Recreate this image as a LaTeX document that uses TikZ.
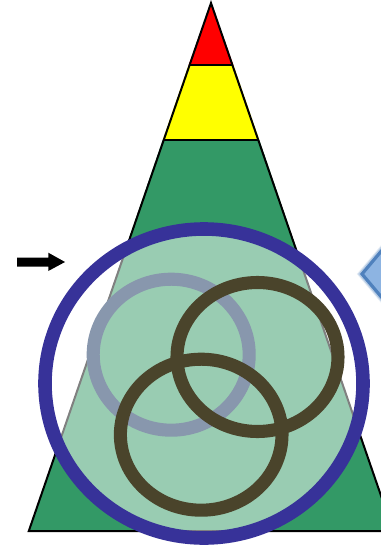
\documentclass[tikz,border=0pt]{standalone}
\usetikzlibrary{calc}
\definecolor{tgreen}{RGB}{51,153,102}
\definecolor{tyellow}{RGB}{255,255,0}
\definecolor{tred}{RGB}{255,0,0}
\definecolor{bigblue}{RGB}{55,50,153}
\definecolor{grayblue}{RGB}{136,151,173}
\definecolor{darkring}{RGB}{74,68,43}
\definecolor{dfill}{RGB}{141,180,226}
\definecolor{dborder}{RGB}{79,129,189}
\tikzset{
  band/.style={line width=1.5pt, line join=miter},
  ring/.style={line width=9.8pt},
}
\begin{document}
\begin{tikzpicture}[x=0.75pt,y=-0.75pt]
\useasboundingbox (0,0) rectangle (381,546);
\clip (0,0) rectangle (381,546);
% triangle coordinates (apex 211,3 ; slope 0.345)
\coordinate (apex) at (211,3);
\coordinate (rl) at (188.6,65);
\coordinate (rr) at (233.4,65);
\coordinate (yl) at (162.7,140);
\coordinate (yr) at (259.3,140);
\coordinate (bl) at (28.8,531);
\coordinate (br) at (393.2,531);
\fill[tgreen] (yl) -- (yr) -- (br) -- (bl) -- cycle;
\fill[tyellow] (rl) -- (rr) -- (yr) -- (yl) -- cycle;
\fill[tred] (apex) -- (rr) -- (rl) -- cycle;
\draw[band] (apex) -- (br) -- (bl) -- cycle;
\draw[band] (rl) -- (rr) (yl) -- (yr);
% big circle: white translucent fill and blue border
\fill[white, opacity=0.5] (204,383.5) ellipse [x radius=159, y radius=154.5];
\draw[bigblue, line width=10.2pt] (204,383.5) ellipse [x radius=159, y radius=154.5];
% inner rings
\draw[grayblue, ring] (171.2,354.7) ellipse [x radius=78, y radius=75.5];
\draw[darkring, ring] (257.5,357) ellipse [x radius=80.5, y radius=74.5];
\draw[darkring, ring] (201.2,434.7) ellipse [x radius=80.8, y radius=75.5];
% black arrow
\fill[black] (17,257.7) -- (48.3,257.7) -- (48.3,252.7) -- (65,262) -- (48.3,271) -- (48.3,266.7) -- (17,266.7) -- cycle;
% blue diamond (left tip visible)
\coordinate (dt) at (362,274);
\foreach \w/\o in {6/0.15,4.5/0.3} {
  \draw[dborder, opacity=\o, line width=\w pt, line join=miter] ($(dt)+(80,-95)$) -- (dt) -- ($(dt)+(80,95)$);
}
\fill[dfill] ($(dt)+(80,-95)$) -- (dt) -- ($(dt)+(80,95)$) -- cycle;
\draw[dborder, line width=2.4pt, line join=miter] ($(dt)+(80,-95)$) -- (dt) -- ($(dt)+(80,95)$);
\end{tikzpicture}
\end{document}
